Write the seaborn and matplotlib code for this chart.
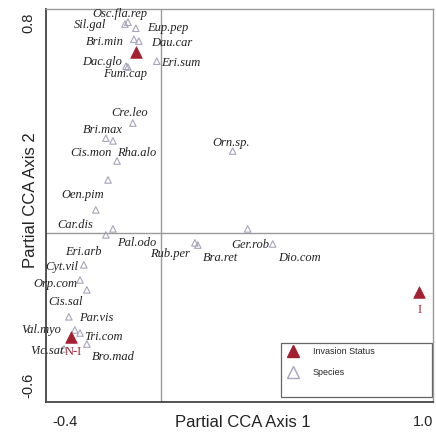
import numpy as np
import pandas as pd
import matplotlib
matplotlib.use("Agg")
import matplotlib.pyplot as plt
from matplotlib.lines import Line2D
from matplotlib.patches import Rectangle
import seaborn as sns

# Species scores on the first two partial CCA axes
species = ["Osc.fla.rep", "Sil.gal", "Eup.pep", "Bri.min", "Dau.car", "Dac.glo",
           "Eri.sum", "Fum.cap", "Cre.leo", "Bri.max", "Cis.mon", "Rha.alo",
           "Oen.pim", "Car.dis", "Pal.odo", "Eri.arb", "Rub.per", "Bra.ret",
           "Ger.rob", "Dio.com", "Orn.sp.", "Cyt.vil", "Orp.com", "Cis.sal",
           "Par.vis", "Val.myo", "Tri.com", "Vic.sat", "Bro.mad"]
species_ax1 = [-0.121, -0.132, -0.092, -0.099, -0.081, -0.128,
               -0.015, -0.121, -0.103, -0.202, -0.176, -0.161,
               -0.194, -0.239, -0.176, -0.202, 0.125, 0.136,
               0.319, 0.411, 0.264, -0.283, -0.297, -0.272,
               -0.338, -0.316, -0.297, -0.356, -0.272]
species_ax2 = [0.767, 0.760, 0.745, 0.705, 0.698, 0.607,
               0.625, 0.604, 0.400, 0.345, 0.335, 0.262,
               0.193, 0.084, 0.015, -0.007, -0.036, -0.044,
               0.015, -0.040, 0.298, -0.116, -0.171, -0.207,
               -0.305, -0.353, -0.364, -0.422, -0.404]

# Centroids of the invasion-status classes
status = ["", "N-I", "I"]
status_ax1 = [-0.092, -0.330, 0.950]
status_ax2 = [0.658, -0.378, -0.215]

x_ticks = [-0.4, -0.2, 0.0, 0.2, 0.4, 0.6, 0.8, 1.0]
x_ticklabels = ["-0.4", "", "", "", "", "", "", "1.0"]
y_ticks = [-0.6, -0.4, -0.2, 0.0, 0.2, 0.4, 0.6, 0.8]
y_ticklabels = ["-0.6", "", "", "", "", "", "", "0.8"]

# Label offsets (points) so names sit beside their triangles
label_offsets = {
    "Osc.fla.rep": (-6, 6), "Sil.gal": (-25, -0.5), "Eup.pep": (23, 0),
    "Bri.min": (-21, -2), "Dau.car": (24, -1), "Dac.glo": (-17, 3),
    "Eri.sum": (17, -1.5), "Fum.cap": (-2, -5), "Cre.leo": (-2, 7),
    "Bri.max": (-2, 6), "Cis.mon": (-16, -9), "Rha.alo": (14, 6),
    "Oen.pim": (-18, -11), "Car.dis": (-15, -11), "Pal.odo": (17, -10),
    "Eri.arb": (-16, -12), "Rub.per": (-18, -8), "Bra.ret": (16, -9),
    "Ger.rob": (2, -11.5), "Dio.com": (19, -10), "Orn.sp.": (-1, 6),
    "Cyt.vil": (-16, -1.5), "Orp.com": (-18, -3), "Cis.sal": (-15, -9),
    "Par.vis": (20, -1), "Val.myo": (-24, 0), "Tri.com": (17, -3),
    "Vic.sat": (-12, -1.5), "Bro.mad": (19, -9),
}
status_offsets = {"N-I": (1.5, -11), "I": (0, -13)}

sp_df = pd.DataFrame({"ax1": species_ax1, "ax2": species_ax2, "name": species})
st_df = pd.DataFrame({"ax1": status_ax1, "ax2": status_ax2, "name": status})

sns.set_style("white")
plt.rcParams["font.family"] = ["Liberation Sans", "DejaVu Sans"]
plt.rcParams["axes.unicode_minus"] = False

red = "#a3202e"
lav = "#a9a4bc"
text_col = "#222222"

fig = plt.figure(figsize=(4.36, 4.37), dpi=100)
ax = fig.add_axes([46 / 436, 1 - 402 / 437, 387 / 436, 393 / 437])

ax.axvline(0, color="#9a9a9a", lw=1.0, zorder=1)
ax.axhline(0, color="#9a9a9a", lw=1.0, zorder=1)

sns.scatterplot(data=sp_df, x="ax1", y="ax2", marker="^", s=22,
                facecolor="none", edgecolor=lav, linewidth=0.8, ax=ax,
                legend=False, zorder=3)
sns.scatterplot(data=st_df, x="ax1", y="ax2", marker="^", s=70,
                color=red, edgecolor=red, linewidth=0.5, ax=ax,
                legend=False, zorder=4)

for _, r in sp_df.iterrows():
    dx, dy = label_offsets[r["name"]]
    ax.annotate(r["name"], (r["ax1"], r["ax2"]), xytext=(dx, dy),
                textcoords="offset points", ha="center", va="center",
                fontsize=9, fontstyle="italic", family="Liberation Serif",
                color=text_col, zorder=5)
for _, r in st_df.iterrows():
    if r["name"]:
        dx, dy = status_offsets[r["name"]]
        ax.annotate(r["name"], (r["ax1"], r["ax2"]), xytext=(dx, dy),
                    textcoords="offset points", ha="center", va="center",
                    fontsize=9, family="Liberation Serif", color=red, zorder=5)

ax.set_xlim(-0.422, 0.998)
ax.set_ylim(-0.615, 0.815)
ax.set_xticks(x_ticks)
ax.set_xticklabels(x_ticklabels)
ax.set_yticks(y_ticks)
ax.set_yticklabels(y_ticklabels, rotation=90, va="center")
ax.tick_params(axis="both", direction="inout", length=5, width=1,
               color="#444", labelsize=10.5, labelcolor=text_col)
ax.tick_params(axis="x", pad=7)
ax.tick_params(axis="y", pad=5)
xl = ax.get_xticklabels()
xl[0].set_ha("left")
xl[-1].set_ha("right")
yl = ax.get_yticklabels()
yl[0].set_va("bottom")
yl[-1].set_va("top")

for side in ["left", "bottom"]:
    ax.spines[side].set_color("#444")
    ax.spines[side].set_linewidth(1.3)
for side in ["top", "right"]:
    ax.spines[side].set_color("#9a9a9a")
    ax.spines[side].set_linewidth(1.0)

ax.set_xlabel("Partial CCA Axis 1", fontsize=12, color=text_col)
ax.set_ylabel("Partial CCA Axis 2", fontsize=12, color=text_col)
ax.xaxis.set_label_coords(0.509, -0.051)
ax.xaxis.label.set_va("center")
ax.yaxis.set_label_coords(-0.041, 0.514)
ax.yaxis.label.set_va("center")

# Legend in a framed box at lower right
ax.add_patch(Rectangle((0.607, 0.013), 0.39, 0.137, transform=ax.transAxes,
                       facecolor="white", edgecolor="#666", lw=0.9, zorder=6))
handles = [
    Line2D([], [], marker="^", ls="none", markersize=8, color=red, label="Invasion Status"),
    Line2D([], [], marker="^", ls="none", markersize=8, markerfacecolor="none",
           markeredgecolor=lav, markeredgewidth=1.0, label="Species"),
]
leg = ax.legend(handles=handles, loc="upper left", bbox_to_anchor=(0.615, 0.148),
                frameon=False, fontsize=6.5, handlelength=1.2, handletextpad=1.6,
                labelspacing=1.3, borderaxespad=0, borderpad=0.4)
leg.set_zorder(7)

fig.savefig("out.png", dpi=100)
